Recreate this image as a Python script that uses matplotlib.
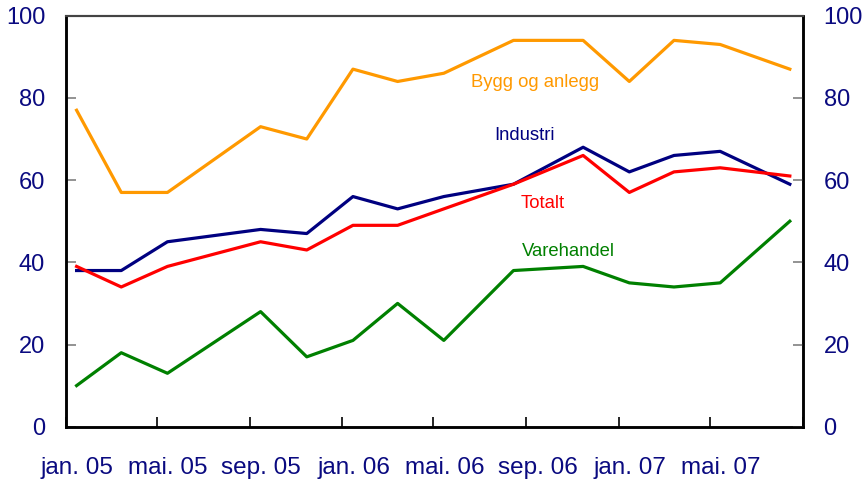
import matplotlib
matplotlib.use("Agg")
import matplotlib.pyplot as plt
import matplotlib.dates as mdates
import pandas as pd

# survey dates (mid-month)
dates = ["2005-01", "2005-03", "2005-05", "2005-09", "2005-11", "2006-01",
         "2006-03", "2006-05", "2006-08", "2006-11", "2007-01", "2007-03",
         "2007-05", "2007-08"]
bygg = [77, 57, 57, 73, 70, 87, 84, 86, 94, 94, 84, 94, 93, 87]
industri = [38, 38, 45, 48, 47, 56, 53, 56, 59, 68, 62, 66, 67, 59]
totalt = [39, 34, 39, 45, 43, 49, 49, 53, 59, 66, 57, 62, 63, 61]
varehandel = [10, 18, 13, 28, 17, 21, 30, 21, 38, 39, 35, 34, 35, 50]

no_months = ["jan", "feb", "mar", "apr", "mai", "jun",
             "jul", "aug", "sep", "okt", "nov", "des"]

navy = "#0a0a80"
plt.rcParams["font.family"] = ["Liberation Sans", "DejaVu Sans"]

x = pd.to_datetime(dates) + pd.Timedelta(days=14)

fig = plt.figure(figsize=(8.66, 4.82), dpi=100)
ax = fig.add_axes([0.0762, 0.1147, 0.8507, 0.8527])

ax.plot(x, bygg, color="#ff9900", lw=2.3)
ax.plot(x, industri, color="#000080", lw=2.3)
ax.plot(x, totalt, color="#ff0000", lw=2.3)
ax.plot(x, varehandel, color="#008000", lw=2.3)

ax.set_xlim(pd.Timestamp("2005-01-01"), pd.Timestamp("2007-09-01"))
ax.set_ylim(0, 100)

# series labels
ax.text(pd.Timestamp("2006-09-13"), 83.7, "Bygg og anlegg", color="#ff9900",
        fontsize=13.3, ha="center", va="center")
ax.text(pd.Timestamp("2006-08-30"), 70.8, "Industri", color="#000080",
        fontsize=13.3, ha="center", va="center")
ax.text(pd.Timestamp("2006-09-22"), 54.3, "Totalt", color="#ff0000",
        fontsize=13.3, ha="center", va="center")
ax.text(pd.Timestamp("2006-10-26"), 42.7, "Varehandel", color="#008000",
        fontsize=13.3, ha="center", va="center")

# x axis: ticks at month start, labels centred mid-month
ax.xaxis.set_major_locator(mdates.MonthLocator(bymonth=[1, 5, 9]))
ax.xaxis.set_major_formatter(plt.NullFormatter())
ax.xaxis.set_minor_locator(mdates.MonthLocator(bymonth=[1, 5, 9], bymonthday=16))
ax.xaxis.set_minor_formatter(plt.FuncFormatter(
    lambda v, p: "%s. %s" % (no_months[mdates.num2date(v).month - 1],
                             mdates.num2date(v).strftime("%y"))))
ax.tick_params(axis="x", which="major", direction="in", length=7, width=1.2,
               color="black")
ax.tick_params(axis="x", which="minor", length=0, pad=22, labelsize=17.5,
               labelcolor=navy)

ax.set_yticks([0, 20, 40, 60, 80, 100])
ax.tick_params(axis="y", direction="in", length=7, width=1.2, color="gray",
               labelsize=17, labelcolor=navy, pad=15)

ax2 = ax.twinx()
ax2.set_ylim(0, 100)
ax2.set_yticks([0, 20, 40, 60, 80, 100])
ax2.tick_params(axis="y", direction="in", length=7, width=1.2, color="gray",
                labelsize=17, labelcolor=navy, pad=15)

for a in (ax, ax2):
    for side in ("left", "bottom", "right"):
        a.spines[side].set_linewidth(1.8)
        a.spines[side].set_color("black")
    a.spines["top"].set_linewidth(1.5)
    a.spines["top"].set_color("#444444")

fig.savefig("out.png", dpi=100)
